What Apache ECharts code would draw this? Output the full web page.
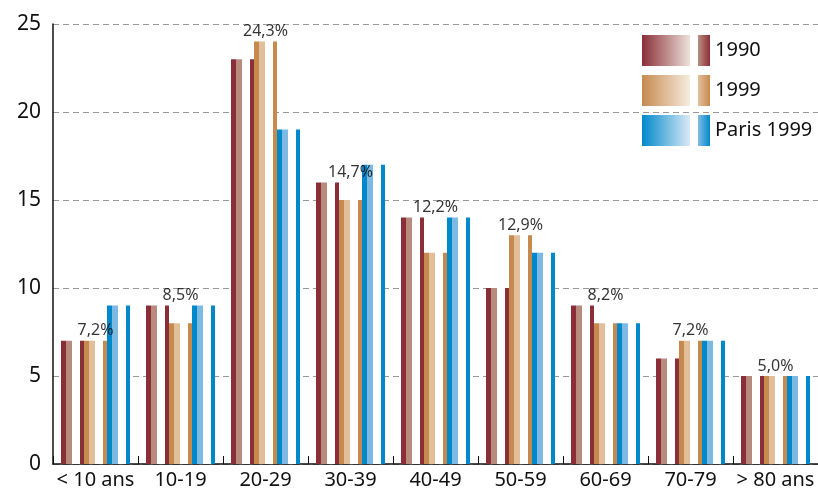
<!DOCTYPE html>
<html>
<head>
<meta charset="utf-8">
<script src="https://cdn.jsdelivr.net/npm/echarts@6/dist/echarts.min.js"></script>
<style>
html,body{margin:0;padding:0;background:#fff;}
#chart{width:818px;height:493px;}
</style>
</head>
<body>
<div id="chart"></div>
<script>
var categories = ['< 10 ans', '10-19', '20-29', '30-39', '40-49', '50-59', '60-69', '70-79', '> 80 ans'];
var values1990 = [7, 9, 23, 16, 14, 10, 9, 6, 5];
var values1999 = [7, 8, 24, 15, 12, 13, 8, 7, 5];
var valuesParis1999 = [9, 9, 19, 17, 14, 12, 8, 7, 5];
var percentLabels = ['7,2%', '8,5%', '24,3%', '14,7%', '12,2%', '12,9%', '8,2%', '7,2%', '5,0%'];
var yTicks = [0, 5, 10, 15, 20, 25];

var FONT = 'Noto Sans';

function barGrad(dark, light) {
  return new echarts.graphic.LinearGradient(0, 0, 1, 0, [
    {offset: 0, color: dark}, {offset: 0.23, color: dark},
    {offset: 0.23, color: light}, {offset: 0.46, color: light},
    {offset: 0.46, color: '#ffffff'}, {offset: 0.84, color: '#ffffff'},
    {offset: 0.84, color: dark}, {offset: 1, color: dark}
  ]);
}
function legendGrad(dark, pale, light) {
  return new echarts.graphic.LinearGradient(0, 0, 1, 0, [
    {offset: 0, color: dark}, {offset: 0.70, color: pale},
    {offset: 0.70, color: '#ffffff'}, {offset: 0.83, color: '#ffffff'},
    {offset: 0.83, color: light}, {offset: 1, color: dark}
  ]);
}

var C1990 = ['#8a2f38', '#b98a7e', '#ede0da'];
var C1999 = ['#c68a4f', '#e2be9a', '#f6ecdf'];
var CPar = ['#0089ca', '#7dbae3', '#d8e9f5'];

var labelHeights = values1990.map(function (v, i) { return Math.max(v, values1999[i]); });

var chart = echarts.init(document.getElementById('chart'), null, {renderer: 'canvas'});
chart.setOption({
  animation: false,
  backgroundColor: '#ffffff',
  grid: {left: 53, right: -4, top: 24, bottom: 29, containLabel: false},
  legend: {
    orient: 'vertical',
    left: 642, top: 35, padding: 0,
    itemWidth: 68, itemHeight: 31, itemGap: 9,
    textStyle: {fontFamily: FONT, fontSize: 20, color: '#111'},
    data: [
      {name: '1990', icon: 'rect', itemStyle: {color: legendGrad(C1990[0], C1990[2], C1990[1])}},
      {name: '1999', icon: 'rect', itemStyle: {color: legendGrad(C1999[0], C1999[2], C1999[1])}},
      {name: 'Paris 1999', icon: 'rect', itemStyle: {color: legendGrad(CPar[0], CPar[2], CPar[1])}}
    ]
  },
  xAxis: {
    type: 'category',
    data: categories,
    axisLine: {lineStyle: {color: '#111', width: 1.5}},
    axisTick: {show: true, inside: true, length: 8, lineStyle: {color: '#111', width: 1}},
    axisLabel: {interval: 0, fontFamily: FONT, fontSize: 20, color: '#111', margin: 6}
  },
  yAxis: {
    type: 'value',
    min: yTicks[0], max: yTicks[yTicks.length - 1], interval: 5,
    axisLine: {show: true, lineStyle: {color: '#111', width: 1.5}},
    axisTick: {show: false},
    axisLabel: {fontFamily: FONT, fontSize: 21, color: '#111', margin: 12, padding: [0, 0, 6, 0]},
    splitLine: {show: true, lineStyle: {color: '#999', type: [6, 4], width: 1.2}}
  },
  series: [
    {name: '1990', type: 'bar', data: values1990, barWidth: 23, barGap: '0%',
     itemStyle: {color: barGrad(C1990[0], C1990[1])}},
    {name: '1999', type: 'bar', data: values1999, barWidth: 23, barGap: '0%',
     itemStyle: {color: barGrad(C1999[0], C1999[1])}},
    {name: 'Paris 1999', type: 'bar', data: valuesParis1999, barWidth: 23, barGap: '0%',
     itemStyle: {color: barGrad(CPar[0], CPar[1])}},
    {name: 'labels', type: 'scatter', data: labelHeights, symbolSize: 0, z: 10,
     label: {show: true, position: 'top', distance: 2, fontFamily: FONT, fontSize: 16, color: '#000',
       formatter: function (p) { return percentLabels[p.dataIndex]; }}}
  ]
});
</script>
</body>
</html>
